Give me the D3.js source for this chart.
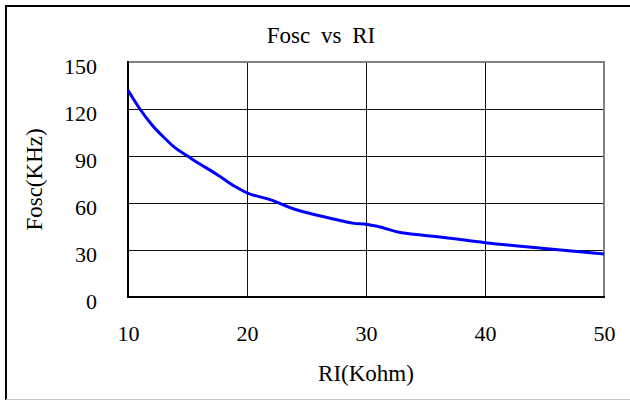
<!DOCTYPE html>
<html>
<head>
<meta charset="utf-8">
<script src="https://cdn.jsdelivr.net/npm/d3@7"></script>
<style>
body{margin:0;background:#fff;}
#canvas{width:630px;height:401px;}
</style>
</head>
<body>
<div id="canvas" class="canvas"></div>
<script>
// data
var ri   = [10, 11, 12, 13, 14, 15, 16, 17, 18, 19, 20, 22, 24, 26, 28, 29, 30, 31, 33, 34, 36, 40, 45, 50];
var fosc = [132, 120, 110, 102, 95, 90, 85, 80.5, 75.5, 70.5, 66.5, 62, 56, 52, 48.5, 47, 46.5, 45, 41, 40, 38.5, 34.7, 31, 27.5];
var xTicks = [10, 20, 30, 40, 50];
var yTicks = [0, 30, 60, 90, 120, 150];

var serif = '"Liberation Serif","DejaVu Serif",serif';
var outerWidth = 630, outerHeight = 401;
var m = {t:62,r:26,b:104,l:128};
var w = outerWidth - m.l - m.r,
    h = outerHeight - m.t - m.b;

var svg = d3.select('.canvas')
    .append('svg')
    .attr('width',outerWidth)
    .attr('height',outerHeight);

// chart frame
svg.append('line').attr('x1',6).attr('y1',6).attr('x2',630).attr('y2',6)
    .attr('stroke','#000').attr('stroke-width',2);
svg.append('line').attr('x1',6).attr('y1',5).attr('x2',6).attr('y2',400)
    .attr('stroke','#000').attr('stroke-width',2);
svg.append('line').attr('x1',6).attr('y1',399.5).attr('x2',630).attr('y2',399.5)
    .attr('stroke','#c8c8c8').attr('stroke-width',1);

svg.append('text')
    .attr('x',321).attr('y',43)
    .attr('text-anchor','middle')
    .style('font-family',serif)
    .style('font-size','23px')
    .style('word-spacing','5px')
    .text('Fosc vs RI');

var plot = svg.append('g')
    .attr('transform','translate(' + m.l + ',' + m.t + ')');

var scaleX = d3.scaleLinear().domain([10,50]).range([0,w]);
var scaleY = d3.scaleLinear().domain([0,150]).range([h,0]);

// gridlines + labels through the axes
var axisY = d3.axisLeft(scaleY).tickValues(yTicks).tickSize(-w).tickPadding(31);
var gy = plot.append('g').attr('class','axis').call(axisY);
gy.attr('font-family',null).attr('font-size',null);
gy.select('.domain').remove();
gy.selectAll('line').attr('stroke','#111').attr('stroke-width',1);
gy.selectAll('text')
    .style('font-family',serif)
    .style('font-size','22px')
    .attr('fill','#000')
    .attr('dy','0.5em');

var axisX = d3.axisBottom(scaleX).tickValues(xTicks).tickSize(-h).tickPadding(0);
var gx = plot.append('g').attr('class','axis')
    .attr('transform','translate(0,' + h + ')')
    .call(axisX);
gx.attr('font-family',null).attr('font-size',null);
gx.select('.domain').remove();
gx.selectAll('line').attr('stroke','#111').attr('stroke-width',1);
gx.selectAll('text')
    .style('font-family',serif)
    .style('font-size','22px')
    .attr('fill','#000')
    .attr('y',44).attr('dy',0);

// plot border: grey top/right, black left/bottom
plot.append('line').attr('x1',0).attr('y1',0).attr('x2',w).attr('y2',0)
    .attr('stroke','#808080').attr('stroke-width',2);
plot.append('line').attr('x1',w).attr('y1',-1).attr('x2',w).attr('y2',h)
    .attr('stroke','#808080').attr('stroke-width',2);
plot.append('line').attr('x1',0).attr('y1',-1).attr('x2',0).attr('y2',h+1)
    .attr('stroke','#000').attr('stroke-width',2);
plot.append('line').attr('x1',0).attr('y1',h).attr('x2',w+1).attr('y2',h)
    .attr('stroke','#000').attr('stroke-width',2);

// curve
var points = ri.map(function(d,i){return {x:d, y:fosc[i]};});
var line = d3.line()
    .x(function(d){return scaleX(d.x)})
    .y(function(d){return scaleY(d.y)})
    .curve(d3.curveMonotoneX);
plot.append('path')
    .datum(points)
    .attr('d',line)
    .attr('fill','none')
    .attr('stroke','#0000ff')
    .attr('stroke-width',3);

// axis titles
svg.append('text')
    .attr('x',m.l + w/2).attr('y',381)
    .attr('text-anchor','middle')
    .style('font-family',serif)
    .style('font-size','23px')
    .text('RI(Kohm)');
svg.append('text')
    .attr('transform','translate(42,' + (m.t + h/2) + ') rotate(-90)')
    .attr('text-anchor','middle')
    .style('font-family',serif)
    .style('font-size','23px')
    .text('Fosc(KHz)');
</script>
</body>
</html>
